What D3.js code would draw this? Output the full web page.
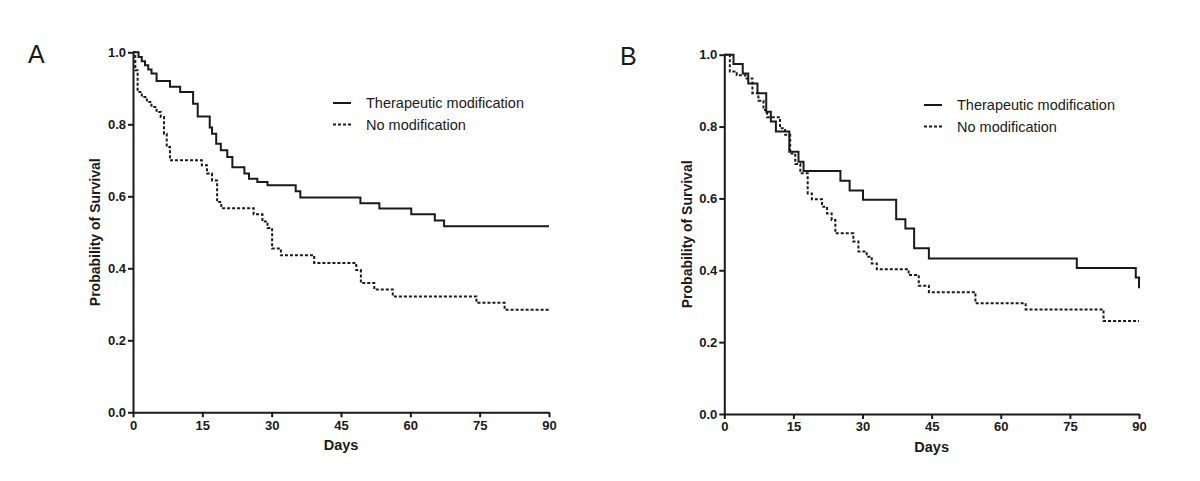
<!DOCTYPE html>
<html>
<head>
<meta charset="utf-8">
<script src="https://cdn.jsdelivr.net/npm/d3@7"></script>
<style>
  html, body { margin: 0; padding: 0; background: #fff; }
  svg { display: block; }
  text { font-family: "Liberation Sans", Arial, sans-serif; fill: #1a1a1a; }
</style>
</head>
<body>
<svg id="chart" width="1200" height="481"></svg>
<script>
// ---------- DATA ----------
const xTicks = [0, 15, 30, 45, 60, 75, 90];
const yTicks = [0, 0.2, 0.4, 0.6, 0.8, 1.0];
const seriesNames = ["Therapeutic modification", "No modification"];
const panelLabels = ["A", "B"];

// Panel A – Therapeutic modification: [day, survival] at each step
const aTherapeutic = [
  [0, 1.0], [1.2, 0.987], [1.9, 0.975], [2.6, 0.964], [3.3, 0.952], [4.0, 0.941],
  [5.1, 0.920], [8.0, 0.904], [10.2, 0.890], [13.0, 0.857], [14.0, 0.822],
  [16.6, 0.791], [17.1, 0.774], [18.0, 0.746], [19.0, 0.728], [20.4, 0.709],
  [21.5, 0.681], [24.1, 0.663], [25.1, 0.649], [26.9, 0.640], [29.1, 0.631],
  [35.2, 0.614], [36.2, 0.597], [49.2, 0.581], [53.3, 0.566], [60.2, 0.550],
  [65.3, 0.533], [67.3, 0.517], [90, 0.517]
];
// Panel A – No modification
const aNoMod = [
  [0, 1.0], [0.5, 0.95], [1.0, 0.890], [1.9, 0.876], [3.0, 0.862], [4.0, 0.848],
  [5.1, 0.834], [6.0, 0.820], [6.7, 0.774], [7.3, 0.737], [8.0, 0.700],
  [14.9, 0.686], [16.0, 0.663], [17.1, 0.644], [18.2, 0.584], [19.1, 0.567],
  [26.1, 0.550], [28.0, 0.530], [29.1, 0.512], [30.1, 0.455], [32.0, 0.436],
  [39.2, 0.415], [48.3, 0.395], [49.3, 0.359], [52.2, 0.341], [56.2, 0.322],
  [74.3, 0.304], [80.4, 0.285], [90, 0.285]
];
// Panel B – Therapeutic modification
const bTherapeutic = [
  [0, 1.0], [2.0, 0.974], [4.0, 0.948], [5.2, 0.920], [7.2, 0.893], [9.1, 0.841],
  [10.1, 0.814], [11.2, 0.786], [14.1, 0.730], [16.1, 0.702], [17.2, 0.676],
  [25.2, 0.649], [27.2, 0.622], [30.1, 0.596], [37.3, 0.542], [39.3, 0.516],
  [41.2, 0.461], [44.4, 0.433], [76.5, 0.406], [89.3, 0.380], [90, 0.350]
];
// Panel B – No modification
const bNoMod = [
  [0, 1.0], [1.2, 0.953], [2.7, 0.943], [4.6, 0.934], [6.1, 0.893], [7.4, 0.872],
  [8.5, 0.846], [9.3, 0.826], [12.1, 0.795], [13.2, 0.777], [14.3, 0.725],
  [15.4, 0.696], [16.5, 0.670], [18.1, 0.614], [19.0, 0.598], [21.2, 0.577],
  [22.3, 0.558], [23.3, 0.540], [24.1, 0.503], [28.0, 0.480], [29.1, 0.452],
  [30.9, 0.438], [32.0, 0.419], [33.1, 0.403], [40.0, 0.387], [42.2, 0.357],
  [44.4, 0.339], [54.5, 0.308], [65.4, 0.291], [82.3, 0.259], [90, 0.259]
];

// ---------- DRAW ----------
const svg = d3.select("#chart");

const panels = [
  { label: panelLabels[0], x0: 133, x1: 549, yTop: 52.3, yBot: 412.3,
    labelX: 28, labelY: 63, yTitleX: 95, legendX: 333, legendY: 103,
    series: [aTherapeutic, aNoMod] },
  { label: panelLabels[1], x0: 724.3, x1: 1139, yTop: 54.7, yBot: 414,
    labelX: 620, labelY: 65, yTitleX: 687, legendX: 924, legendY: 105,
    series: [bTherapeutic, bNoMod] }
];

const dashes = [null, "3,2"];

panels.forEach(p => {
  const x = d3.scaleLinear().domain([0, 90]).range([p.x0, p.x1]);
  const y = d3.scaleLinear().domain([0, 1]).range([p.yBot, p.yTop]);
  const g = svg.append("g");

  // panel letter
  g.append("text").attr("x", p.labelX).attr("y", p.labelY)
    .style("font-size", "25px").text(p.label);

  // axes
  const xAxis = d3.axisBottom(x).tickValues(xTicks).tickSize(5).tickSizeOuter(0)
    .tickPadding(3).tickFormat(d3.format("d"));
  const yAxis = d3.axisLeft(y).tickValues(yTicks).tickSize(5).tickSizeOuter(0)
    .tickPadding(2).tickFormat(d3.format(".1f"));

  const gx = g.append("g").attr("transform", `translate(0,${p.yBot})`).call(xAxis);
  const gy = g.append("g").attr("transform", `translate(${p.x0},0)`).call(yAxis);
  [gx, gy].forEach(a => {
    a.select(".domain").attr("stroke", "#1a1a1a").attr("stroke-width", 2);
    a.selectAll(".tick line").attr("stroke", "#1a1a1a").attr("stroke-width", 2);
    a.selectAll(".tick text").style("font-size", "13px").style("font-weight", "bold")
      .attr("fill", "#1a1a1a");
  });

  // axis titles
  g.append("text").attr("x", (p.x0 + p.x1) / 2 - 133 + 133).attr("y", p.yBot + 38)
    .attr("text-anchor", "middle").style("font-size", "14.5px").style("font-weight", "bold")
    .text("Days");
  g.append("text")
    .attr("transform", `translate(${p.yTitleX + 5},${(p.yTop + p.yBot) / 2}) rotate(-90)`)
    .attr("text-anchor", "middle").style("font-size", "14px").style("font-weight", "bold")
    .text("Probability of Survival");

  // curves
  const line = d3.line().x(d => x(d[0])).y(d => y(d[1])).curve(d3.curveStepAfter);
  p.series.forEach((s, i) => {
    // ensure final vertical drop at last point shows (curveStepAfter handles it)
    g.append("path").datum(s).attr("d", line)
      .attr("fill", "none").attr("stroke", "#1a1a1a").attr("stroke-width", 2)
      .attr("stroke-dasharray", dashes[i]);
  });

  // legend
  seriesNames.forEach((name, i) => {
    const ly = p.legendY + i * 21.5;
    g.append("line").attr("x1", p.legendX).attr("x2", p.legendX + 18)
      .attr("y1", ly).attr("y2", ly)
      .attr("stroke", "#1a1a1a").attr("stroke-width", 2)
      .attr("stroke-dasharray", dashes[i]);
    g.append("text").attr("x", p.legendX + 33).attr("y", ly).attr("dy", "0.35em")
      .style("font-size", "14.5px").text(name);
  });
});
</script>
</body>
</html>
